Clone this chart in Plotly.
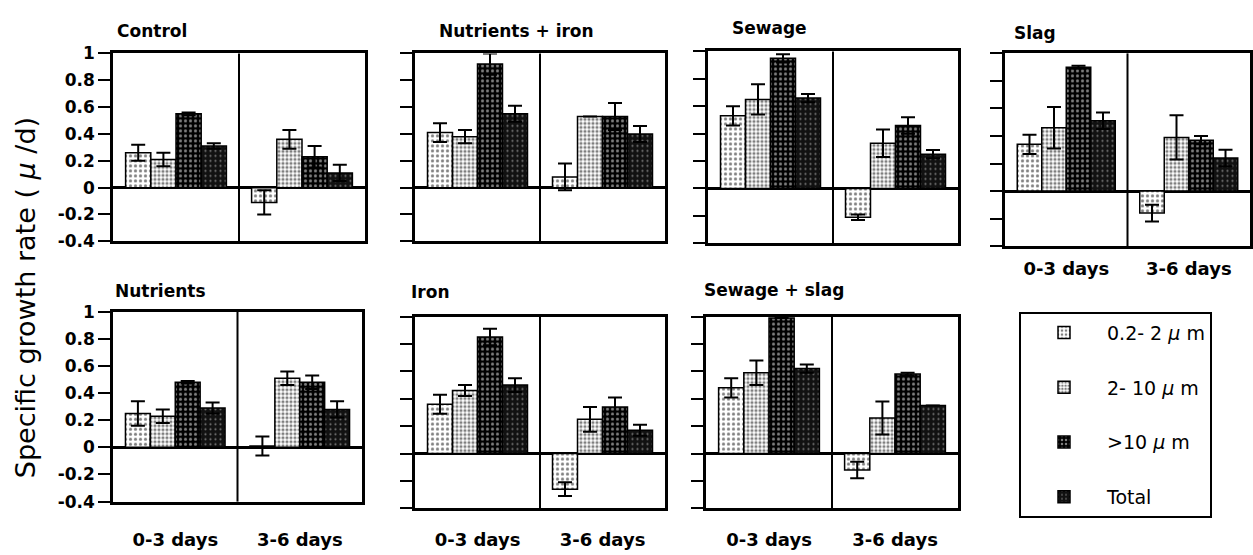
import plotly.graph_objects as go

FIG_W, FIG_H = 1253, 555

periods = ["0-3 days", "3-6 days"]
size_classes = ["0.2- 2 <i>μ</i> m", "2- 10 <i>μ</i> m", "&gt;10 <i>μ</i> m", "Total"]

y_tick_values = [-0.4, -0.2, 0, 0.2, 0.4, 0.6, 0.8, 1]
y_tick_labels = ["-0.4", "-0.2", "0", "0.2", "0.4", "0.6", "0.8", "1"]

# Specific growth rate (per day) by size class.
# First four values: 0-3 days, last four: 3-6 days
# (order: 0.2-2 um, 2-10 um, >10 um, Total).
control = [0.26, 0.21, 0.55, 0.31, -0.11, 0.36, 0.23, 0.11]
control_err = [0.06, 0.05, 0.01, 0.02, 0.09, 0.07, 0.08, 0.06]

nutrients_iron = [0.41, 0.38, 0.92, 0.55, 0.08, 0.53, 0.53, 0.40]
nutrients_iron_err = [0.07, 0.05, 0.08, 0.06, 0.10, 0.00, 0.10, 0.06]

sewage = [0.53, 0.65, 0.95, 0.66, -0.21, 0.33, 0.46, 0.25]
sewage_err = [0.07, 0.11, 0.03, 0.03, 0.02, 0.10, 0.06, 0.03]

slag = [0.34, 0.46, 0.90, 0.51, -0.16, 0.39, 0.37, 0.24]
slag_err = [0.07, 0.15, 0.01, 0.06, 0.06, 0.16, 0.03, 0.06]

nutrients = [0.25, 0.23, 0.48, 0.29, 0.01, 0.51, 0.48, 0.28]
nutrients_err = [0.09, 0.05, 0.01, 0.04, 0.07, 0.05, 0.05, 0.06]

iron = [0.36, 0.46, 0.85, 0.50, -0.26, 0.25, 0.34, 0.17]
iron_err = [0.07, 0.04, 0.06, 0.05, 0.05, 0.09, 0.07, 0.04]

sewage_slag = [0.48, 0.59, 0.99, 0.62, -0.12, 0.26, 0.58, 0.35]
sewage_slag_err = [0.07, 0.09, 0.00, 0.03, 0.06, 0.12, 0.01, 0.00]

treatments = [
    ("Control", control, control_err),
    ("Nutrients + iron", nutrients_iron, nutrients_iron_err),
    ("Sewage", sewage, sewage_err),
    ("Slag", slag, slag_err),
    ("Nutrients", nutrients, nutrients_err),
    ("Iron", iron, iron_err),
    ("Sewage + slag", sewage_slag, sewage_slag_err),
]

# Panel frames in pixels: left, top, right, bottom
panel_boxes = [
    (113, 45, 365, 240),
    (415, 45, 665, 240),
    (708, 43, 958, 242),
    (1005, 45, 1250, 245),
    (113, 313, 362, 510),
    (415, 318, 665, 517),
    (706, 318, 958, 517),
]
# Panel title anchor (left x, middle y) in pixels
title_pos = [
    (115, 22), (437, 22), (730, 19), (1012, 24),
    (113, 292), (409, 293), (702, 290),
]
show_y_labels = [True, False, False, False, True, False, False]
show_x_labels = [False, False, False, True, True, True, True]
x_label_gap = [0, 0, 0, 4, 20, 13, 13]

# Stippled fills per size class
fills = [
    dict(shape=".", bgcolor="white", fgcolor="black", size=5, solidity=0.33),
    dict(shape=".", bgcolor="white", fgcolor="black", size=4, solidity=0.5),
    dict(shape=".", bgcolor="black", fgcolor="white", size=5, solidity=0.3),
    dict(shape=".", bgcolor="#111111", fgcolor="#dddddd", size=5, solidity=0.15),
]

FONT = "DejaVu Sans"


def px_x(px):
    return px / FIG_W


def px_y(py):
    return 1 - py / FIG_H


fig = go.Figure()
layout = dict(
    width=FIG_W,
    height=FIG_H,
    autosize=False,
    margin=dict(l=0, r=0, t=0, b=0),
    paper_bgcolor="white",
    plot_bgcolor="white",
    barmode="group",
    bargap=0.2,
    bargroupgap=0,
    font=dict(family=FONT, size=17, color="black"),
    showlegend=True,
    legend=dict(
        x=px_x(1019), y=px_y(313), xanchor="left", yanchor="top",
        bordercolor="black", borderwidth=2, bgcolor="white",
        font=dict(family=FONT, size=19, color="black"),
        itemwidth=76, tracegroupgap=27, traceorder="grouped",
        entrywidth=145, entrywidthmode="pixels",
    ),
)
shapes = []
annotations = []

for p, (name, vals, errs) in enumerate(treatments):
    idx = p + 1
    xa = "x" if idx == 1 else f"x{idx}"
    ya = "y" if idx == 1 else f"y{idx}"
    for k, cls in enumerate(size_classes):
        fig.add_trace(go.Bar(
            x=periods,
            y=[vals[k], vals[4 + k]],
            error_y=dict(type="data", array=[errs[k], errs[4 + k]], symmetric=True,
                         color="black", thickness=2, width=7),
            name=cls,
            legendgroup=cls,
            showlegend=(p == 0),
            marker=dict(pattern=fills[k], line=dict(color="black", width=1.5)),
            xaxis=xa, yaxis=ya,
        ))
    l, t, r, b = panel_boxes[p]
    layout[f"xaxis{idx}"] = dict(
        domain=[px_x(l), px_x(r)], anchor=ya, type="category",
        range=[-0.5, 1.5], showline=True, mirror=True, linecolor="black",
        linewidth=2.5, ticks="", showgrid=False, zeroline=False,
        showticklabels=show_x_labels[p], ticklabelstandoff=x_label_gap[p],
        tickfont=dict(family=FONT, size=18, weight="bold"), fixedrange=True,
    )
    layout[f"yaxis{idx}"] = dict(
        domain=[px_y(b), px_y(t)], anchor=xa, range=[-0.4, 1.0],
        tickvals=y_tick_values, ticktext=y_tick_labels,
        ticks="outside", ticklen=12, tickwidth=2, tickcolor="black",
        showticklabels=show_y_labels[p],
        tickfont=dict(family=FONT, size=17, weight="bold"),
        showline=True, mirror=True, linecolor="black", linewidth=2.5,
        showgrid=False, zeroline=True, zerolinecolor="black", zerolinewidth=2.5,
        fixedrange=True,
    )
    # divider between the two incubation periods
    shapes.append(dict(type="line", xref=xa, yref=f"{ya} domain",
                       x0=0.5, x1=0.5, y0=0, y1=1,
                       line=dict(color="black", width=2)))
    tx, ty = title_pos[p]
    annotations.append(dict(
        text=name, x=px_x(tx), y=px_y(ty), xref="paper", yref="paper",
        xanchor="left", yanchor="middle", showarrow=False,
        font=dict(family=FONT, size=17, weight="bold", color="black"),
    ))

annotations.append(dict(
    text="Specific growth rate ( <i>μ</i> /d)", x=px_x(25), y=px_y(299),
    xref="paper", yref="paper", xanchor="center", yanchor="middle",
    textangle=-90, showarrow=False,
    font=dict(family=FONT, size=27, color="black"),
))

layout["shapes"] = shapes
layout["annotations"] = annotations
fig.update_layout(**layout)
fig.write_html("out.html")
